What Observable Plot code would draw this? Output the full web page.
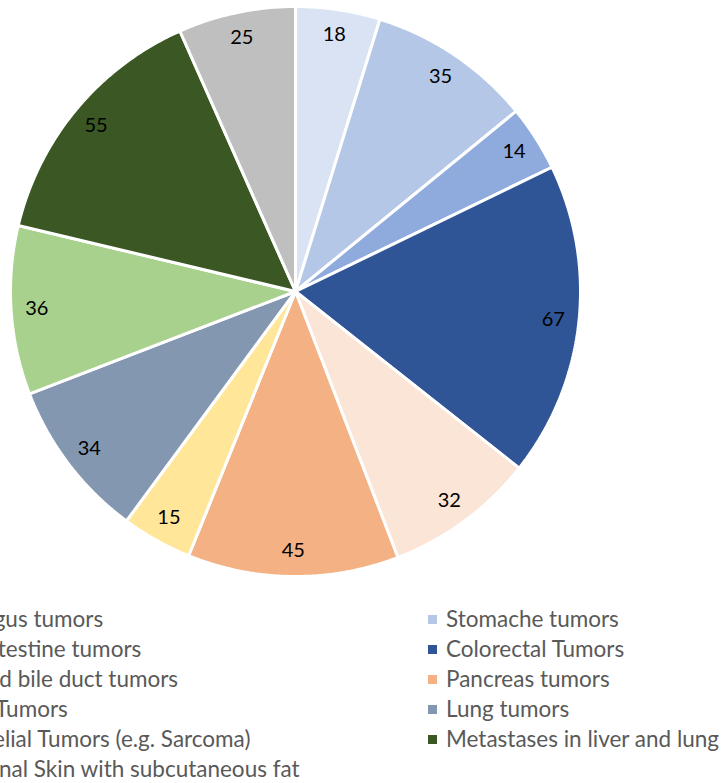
<!DOCTYPE html>
<html>
<head>
<meta charset="utf-8">
<script src="https://cdn.jsdelivr.net/npm/d3@7"></script>
<script src="https://cdn.jsdelivr.net/npm/@observablehq/plot@0.6"></script>
<style>
  html, body { margin: 0; padding: 0; background: #fff; overflow: hidden; }
  #wrap { position: relative; width: 722px; height: 783px; overflow: hidden; }
  #legend { position: absolute; top: 604px; left: -96px; display: grid;
    grid-template-columns: 524px auto; font-family: Lato, sans-serif; font-size: 22.5px;
    color: #595959; line-height: 30px; white-space: nowrap; }
  .item { display: flex; align-items: center; }
  .sw { width: 9px; height: 9px; margin-right: 9px; flex: none; }
</style>
</head>
<body>
<div id="wrap"><div id="chart"></div><div id="legend"></div></div>
<script>
const categories = [
  "Esophagus tumors",
  "Stomache tumors",
  "Small intestine tumors",
  "Colorectal Tumors",
  "Liver and bile duct tumors",
  "Pancreas tumors",
  "Kidney Tumors",
  "Lung tumors",
  "Endothelial Tumors (e.g. Sarcoma)",
  "Metastases in liver and lung",
  "Abdominal Skin with subcutaneous fat"
];
const values = [18, 35, 14, 67, 32, 45, 15, 34, 36, 55, 25];
const colors = ["#DAE3F3", "#B4C7E7", "#8FAADC", "#2F5597", "#FBE5D6", "#F4B183",
                "#FFE699", "#8497B0", "#A9D18E", "#3A5724", "#BFBFBF"];

const total = d3.sum(values);
const polys = [];
const labels = [];
let acc = 0;
values.forEach((v, i) => {
  const a0 = acc / total * 2 * Math.PI;
  const a1 = (acc + v) / total * 2 * Math.PI;
  acc += v;
  const n = Math.max(4, Math.ceil((a1 - a0) / (Math.PI / 360)));
  polys.push({name: categories[i], x: 0, y: 0});
  for (let k = 0; k <= n; k++) {
    const a = a0 + (a1 - a0) * k / n;
    polys.push({name: categories[i], x: Math.sin(a), y: Math.cos(a)});
  }
  polys.push({name: categories[i], x: 0, y: 0});
  const am = (a0 + a1) / 2;
  labels.push({name: categories[i], value: v, x: 0.91 * Math.sin(am), y: 0.91 * Math.cos(am)});
});

const chart = Plot.plot({
  width: 722,
  height: 600,
  style: {background: "white", fontFamily: "Lato, sans-serif"},
  x: {domain: [-1, 1], range: [10, 580], axis: null},
  y: {domain: [-1, 1], range: [576, 6], axis: null},
  color: {domain: categories, range: colors},
  marks: [
    Plot.line(polys, {x: "x", y: "y", z: "name", fill: "name", stroke: "white",
      strokeWidth: 3, strokeLinejoin: "miter"}),
    Plot.text(labels, {x: "x", y: "y", text: "value", fill: "black", fontSize: 20})
  ]
});
document.getElementById("chart").appendChild(chart);

const legend = document.getElementById("legend");
categories.forEach((c, i) => {
  const it = document.createElement("div");
  it.className = "item";
  const sw = document.createElement("span");
  sw.className = "sw";
  sw.style.background = colors[i];
  const t = document.createElement("span");
  t.textContent = c;
  it.appendChild(sw);
  it.appendChild(t);
  legend.appendChild(it);
});
</script>
</body>
</html>
